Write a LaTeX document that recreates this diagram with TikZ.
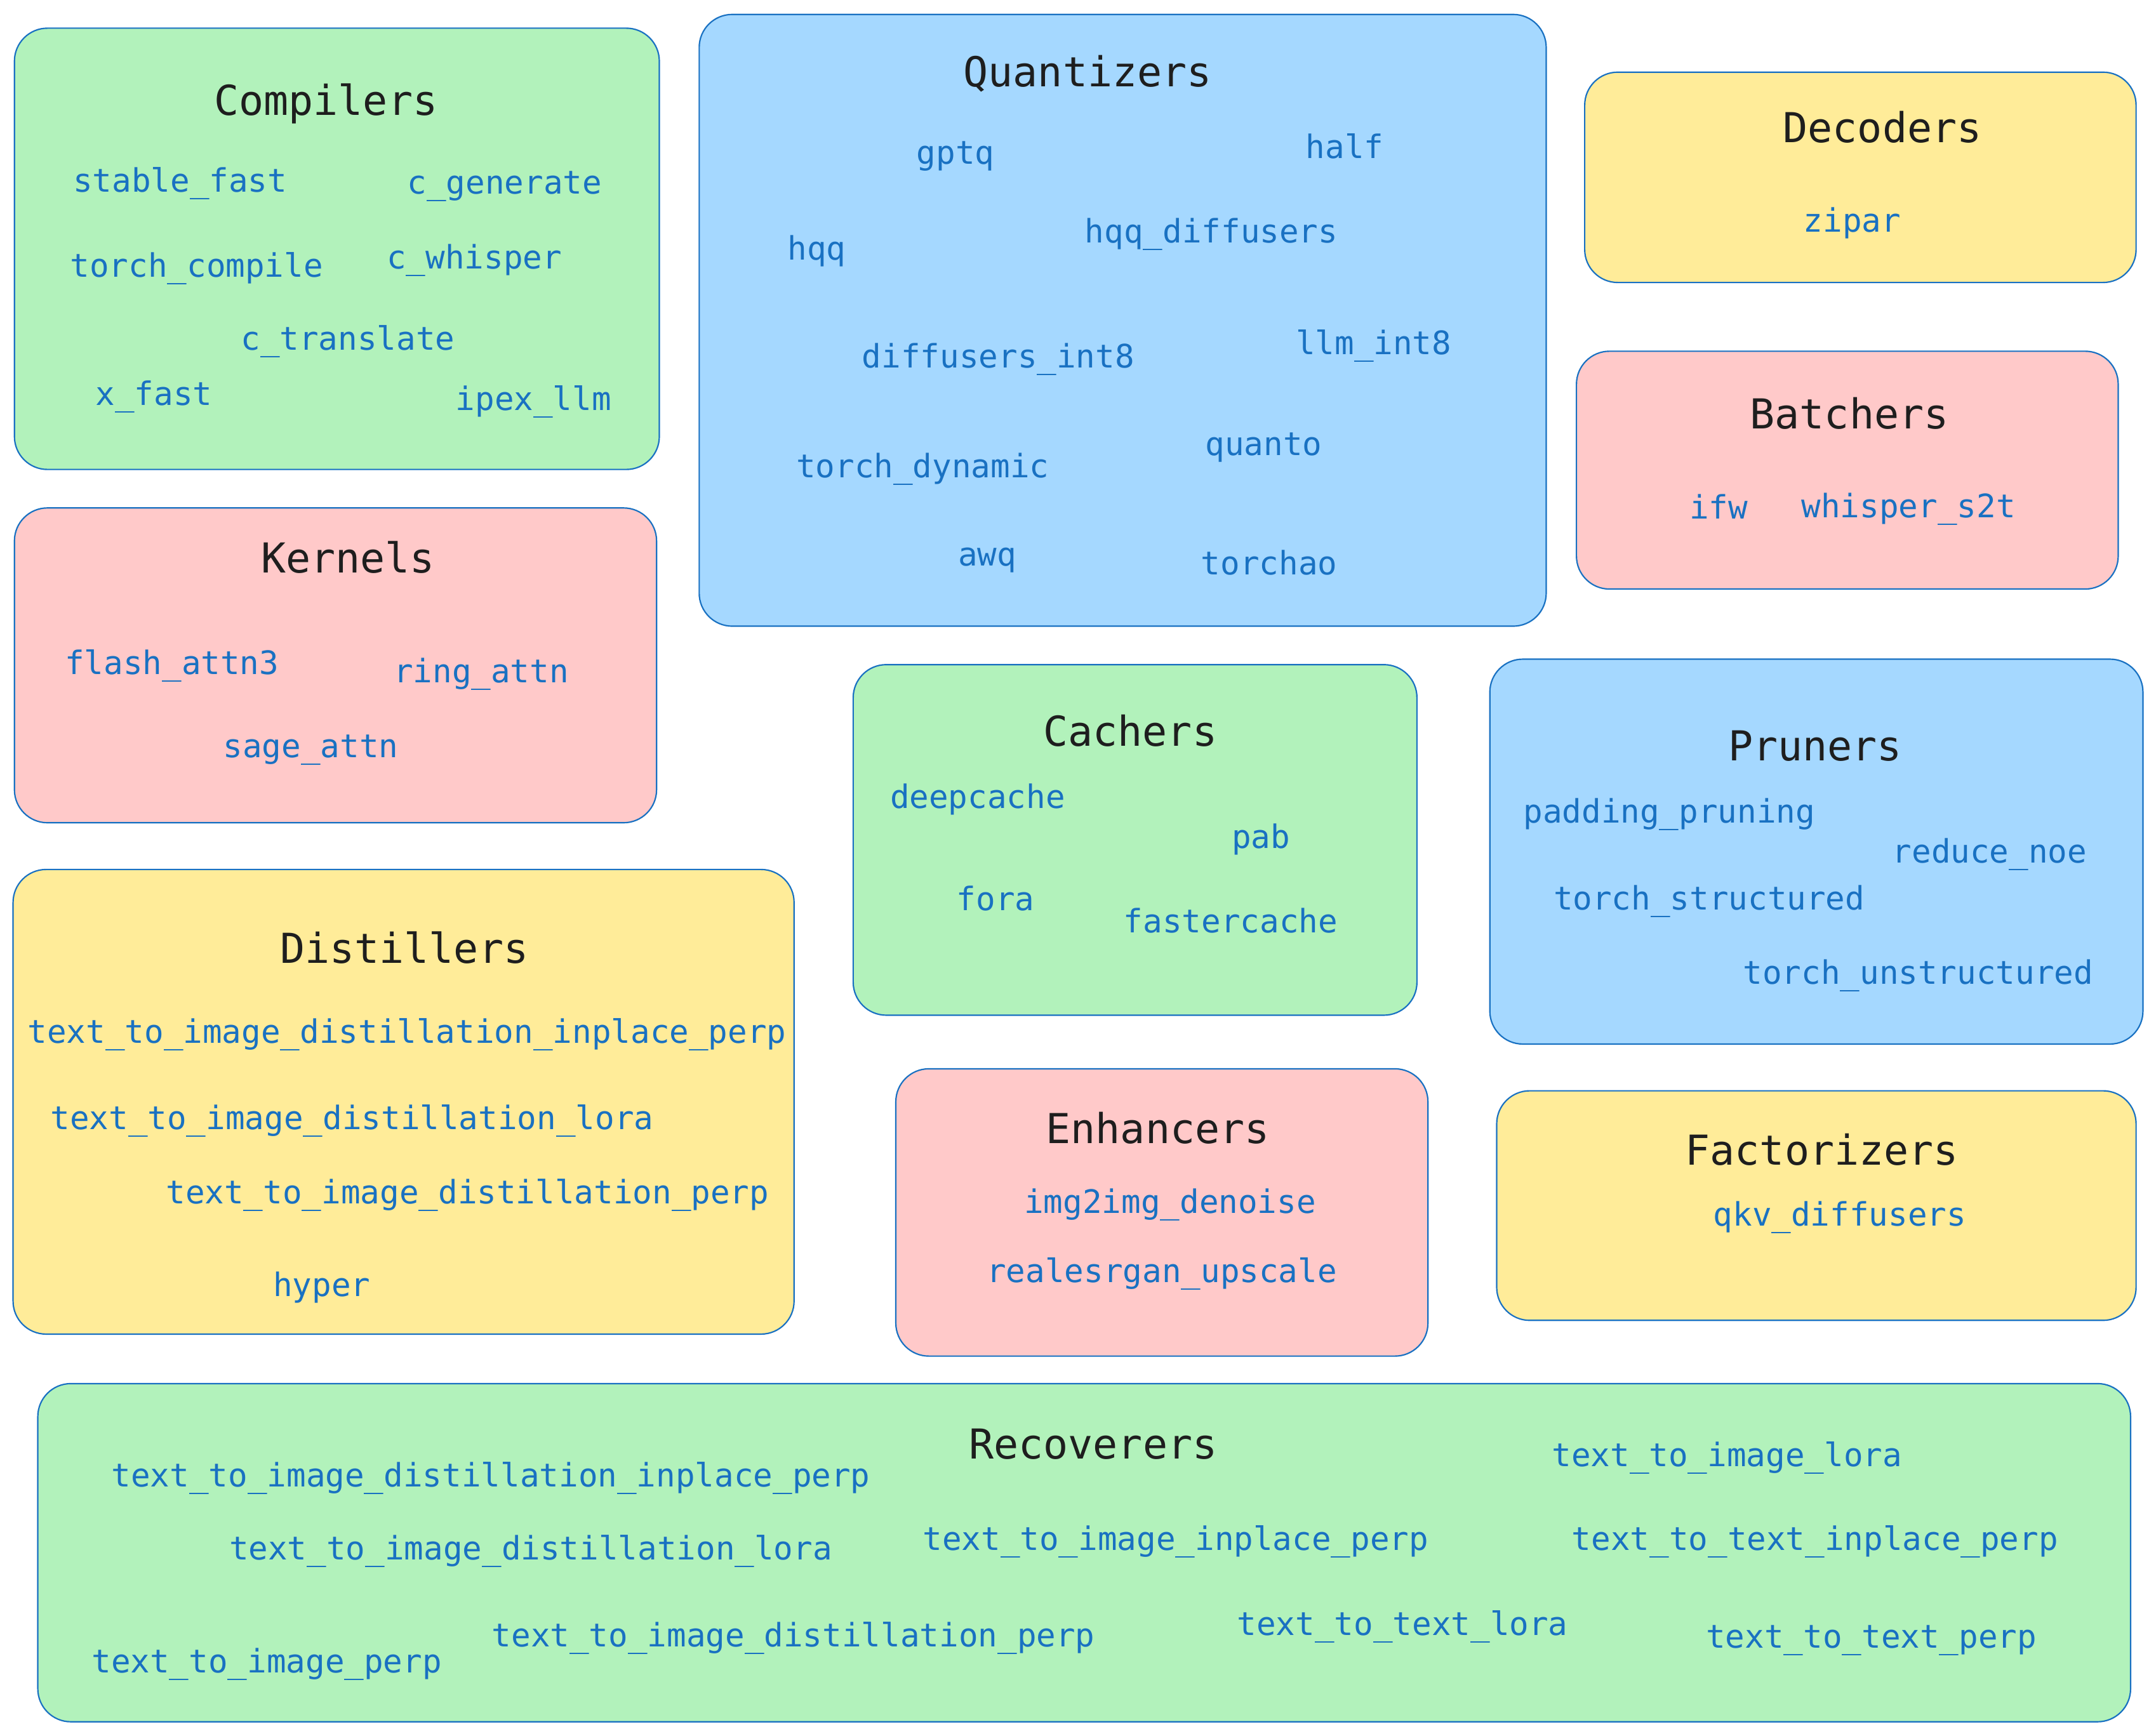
\documentclass[tikz,border=0pt]{standalone}
\usepackage{fontspec}
\setmonofont{DejaVu Sans Mono}
\definecolor{gfill}{HTML}{B2F2BB}
\definecolor{rfill}{HTML}{FFC9C9}
\definecolor{bfill}{HTML}{A5D8FF}
\definecolor{yfill}{HTML}{FFEC99}
\definecolor{strk}{HTML}{1971C2}
\definecolor{lbl}{HTML}{1971C2}
\definecolor{ttl}{HTML}{1E1E1E}
\tikzset{
  grp/.style={draw=strk, line width=1pt, rounded corners=24pt, anchor=north west, inner sep=0pt},
  ttlnode/.style={text=ttl, font=\ttfamily\fontsize{30}{34}\selectfont, inner sep=0pt, yshift=-2.5pt},
  lblnode/.style={text=lbl, font=\ttfamily\fontsize{23.5}{27}\selectfont, inner sep=0pt, yshift=-2.5pt},
}
\newcommand{\grpbox}[6]{\node[grp, fill=#2, minimum width=#5-#3, minimum height=#6-#4] (#1) at (#3,#4) {};}
\begin{document}
\begin{tikzpicture}[x=1pt,y=-1pt]
\useasboundingbox (0,0) rectangle (1568,1261);
% boxes
\grpbox{comp}{gfill}{10}{20}{479}{341}
\grpbox{quant}{bfill}{508}{10}{1124}{455}
\grpbox{dec}{yfill}{1152}{52}{1553}{205}
\grpbox{batch}{rfill}{1146}{255}{1540}{428}
\grpbox{kern}{rfill}{10}{369}{477}{598}
\grpbox{cach}{gfill}{620}{483}{1030}{738}
\grpbox{prun}{bfill}{1083}{479}{1558}{759}
\grpbox{dist}{yfill}{9}{632}{577}{970}
\grpbox{enh}{rfill}{651}{777}{1038}{986}
\grpbox{fact}{yfill}{1088}{793}{1553}{960}
\grpbox{reco}{gfill}{27}{1006}{1549}{1252}
% Compilers
\node[ttlnode] (tcomp) at (237,73) {Compilers};
\node[lblnode] (c1) at (131,131) {stable\_fast};
\node[lblnode] (c2) at (367,133) {c\_generate};
\node[lblnode] (c3) at (143,193) {torch\_compile};
\node[lblnode] (c4) at (345,187) {c\_whisper};
\node[lblnode] (c5) at (253,246) {c\_translate};
\node[lblnode] (c6) at (112,286) {x\_fast};
\node[lblnode] (c7) at (388,290) {ipex\_llm};
% Quantizers
\node[ttlnode] (tquant) at (791,51) {Quantizers};
\node[lblnode] (q1) at (695,111) {gptq};
\node[lblnode] (q2) at (978,104) {half};
\node[lblnode] (q3) at (594,180) {hqq};
\node[lblnode] (q4) at (881,168) {hqq\_diffusers};
\node[lblnode] (q5) at (726,259) {diffusers\_int8};
\node[lblnode] (q6) at (999,249) {llm\_int8};
\node[lblnode] (q7) at (671,339) {torch\_dynamic};
\node[lblnode] (q8) at (919,323) {quanto};
\node[lblnode] (q9) at (718,405) {awq};
\node[lblnode] (q10) at (923,407) {torchao};
% Decoders
\node[ttlnode] (tdec) at (1369,90) {Decoders};
\node[lblnode] (d1) at (1347,160) {zipar};
% Batchers
\node[ttlnode] (tbatch) at (1345,298) {Batchers};
\node[lblnode] (b1) at (1250,366) {ifw};
\node[lblnode] (b2) at (1388,368) {whisper\_s2t};
% Kernels
\node[ttlnode] (tkern) at (253,403) {Kernels};
\node[lblnode] (k1) at (125,482) {flash\_attn3};
\node[lblnode] (k2) at (350,488) {ring\_attn};
\node[lblnode] (k3) at (226,543) {sage\_attn};
% Cachers
\node[ttlnode] (tcach) at (822,529) {Cachers};
\node[lblnode] (ca1) at (711,579) {deepcache};
\node[lblnode] (ca2) at (917,608) {pab};
\node[lblnode] (ca3) at (724,651) {fora};
\node[lblnode] (ca4) at (895,667) {fastercache};
% Pruners
\node[ttlnode] (tprun) at (1320,540) {Pruners};
\node[lblnode] (p1) at (1214,590) {padding\_pruning};
\node[lblnode] (p2) at (1447,619) {reduce\_noe};
\node[lblnode] (p3) at (1243,653) {torch\_structured};
\node[lblnode] (p4) at (1395,707) {torch\_unstructured};
% Distillers
\node[ttlnode] (tdist) at (294,687) {Distillers};
\node[lblnode] (di1) at (296,750) {text\_to\_image\_distillation\_inplace\_perp};
\node[lblnode] (di2) at (256,813) {text\_to\_image\_distillation\_lora};
\node[lblnode] (di3) at (340,867) {text\_to\_image\_distillation\_perp};
\node[lblnode] (di4) at (234,934) {hyper};
% Enhancers
\node[ttlnode] (tenh) at (842,818) {Enhancers};
\node[lblnode] (e1) at (851,874) {img2img\_denoise};
\node[lblnode] (e2) at (845,924) {realesrgan\_upscale};
% Factorizers
\node[ttlnode] (tfact) at (1325,834) {Factorizers};
\node[lblnode] (f1) at (1338,883) {qkv\_diffusers};
% Recoverers
\node[ttlnode] (treco) at (795,1048) {Recoverers};
\node[lblnode] (r1) at (357,1073) {text\_to\_image\_distillation\_inplace\_perp};
\node[lblnode] (r2) at (1256,1058) {text\_to\_image\_lora};
\node[lblnode] (r3) at (386,1126) {text\_to\_image\_distillation\_lora};
\node[lblnode] (r4) at (855,1119) {text\_to\_image\_inplace\_perp};
\node[lblnode] (r5) at (1320,1119) {text\_to\_text\_inplace\_perp};
\node[lblnode] (r6) at (194,1208) {text\_to\_image\_perp};
\node[lblnode] (r7) at (577,1189) {text\_to\_image\_distillation\_perp};
\node[lblnode] (r8) at (1020,1181) {text\_to\_text\_lora};
\node[lblnode] (r9) at (1361,1191) {text\_to\_text\_perp};
\end{tikzpicture}
\end{document}
